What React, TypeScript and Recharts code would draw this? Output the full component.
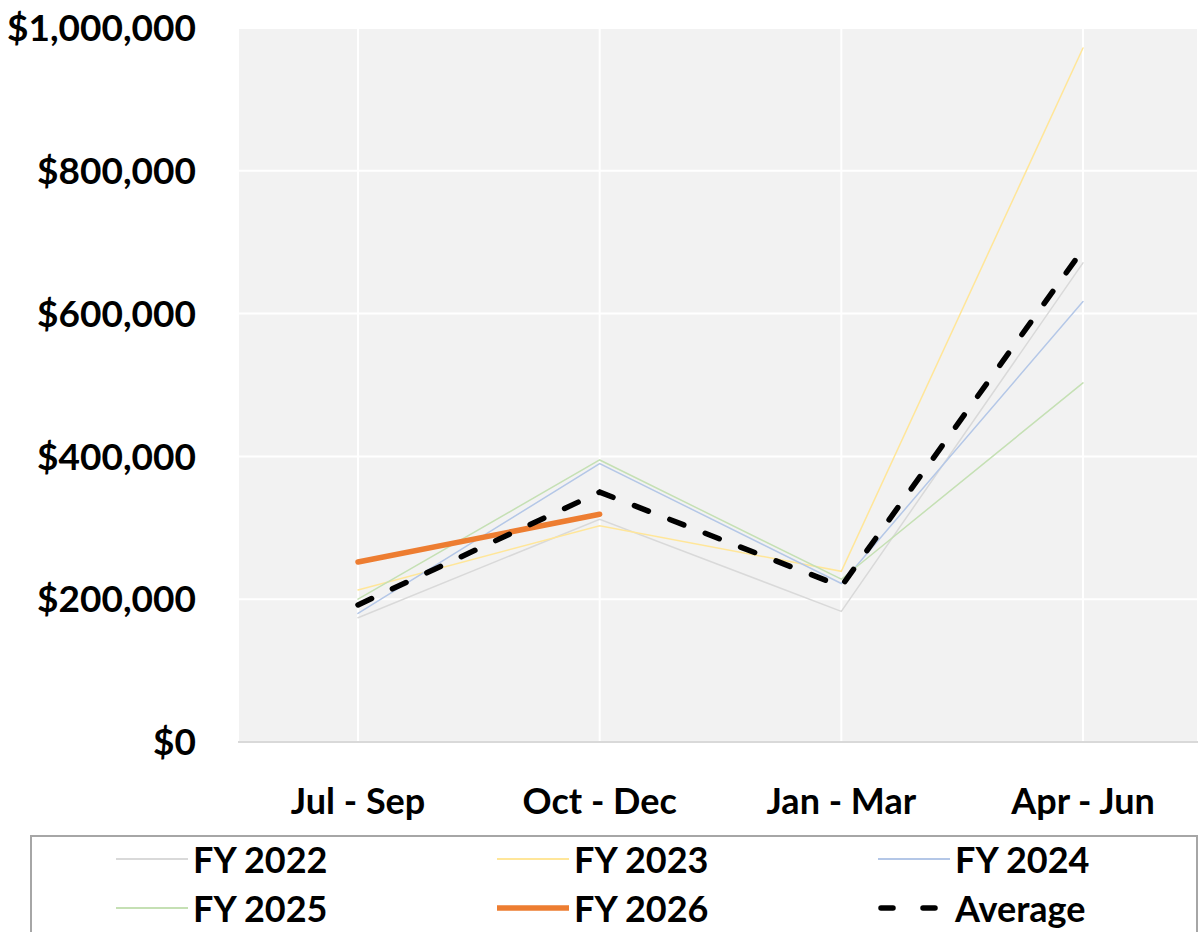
import React from "react"
import { LineChart, Line, XAxis, YAxis, CartesianGrid } from "recharts"

document.body.style.margin = "0"

const quarters = ["Jul - Sep", "Oct - Dec", "Jan - Mar", "Apr - Jun"]
const fy2022 = [174000, 312000, 183000, 671000]
const fy2023 = [213000, 303000, 239000, 972000]
const fy2024 = [180000, 390000, 222000, 617000]
const fy2025 = [200000, 395000, 228000, 503000]
const fy2026 = [252000, 319000, null, null]
const average = [192000, 350000, 218000, 690000]
const yTicks = [0, 200000, 400000, 600000, 800000, 1000000]

const SERIES = [
  { key: "fy2022", name: "FY 2022", values: fy2022, color: "#d9d9d9", width: 1.5 },
  { key: "fy2023", name: "FY 2023", values: fy2023, color: "#ffe699", width: 1.5 },
  { key: "fy2024", name: "FY 2024", values: fy2024, color: "#b4c7e7", width: 1.5 },
  { key: "fy2025", name: "FY 2025", values: fy2025, color: "#c5e0b4", width: 1.5 },
  { key: "fy2026", name: "FY 2026", values: fy2026, color: "#ed7d31", width: 5.5 },
  { key: "average", name: "Average", values: average, color: "#000000", width: 5.5, dash: "15 23" },
]

const data = quarters.map((q, i) => {
  const row: any = { quarter: q }
  SERIES.forEach((s) => (row[s.key] = s.values[i]))
  return row
})

const FONT = "Lato, 'Open Sans', sans-serif"
const fmt = (v: number) => "$" + v.toLocaleString("en-US")

export default function App() {
  return (
    <div style={{ position: "relative", width: 1198, height: 932, background: "#fff", fontFamily: FONT }}>
      <LineChart width={1198} height={932} data={data} margin={{ top: 28, right: 0, bottom: 160, left: 0 }}>
        <CartesianGrid fill="#f2f2f2" stroke="#ffffff" strokeWidth={2} />
        <XAxis
          dataKey="quarter"
          height={30}
          padding={{ left: 120, right: 115 }}
          stroke="#d9d9d9"
          strokeWidth={2}
          tickLine={false}
          tickMargin={40}
          tick={{ fill: "#000", fontSize: 36, fontWeight: 700, fontFamily: FONT }}
        />
        <YAxis
          width={238}
          domain={[0, 1000000]}
          ticks={yTicks}
          axisLine={false}
          tickLine={false}
          tickSize={0}
          tickMargin={42}
          tickFormatter={fmt}
          tick={{ fill: "#000", fontSize: 37, fontWeight: 700, fontFamily: FONT }}
        />
        {SERIES.map((s) => (
          <Line
            key={s.key}
            dataKey={s.key}
            name={s.name}
            stroke={s.color}
            strokeWidth={s.width}
            strokeDasharray={s.dash}
            strokeLinecap="round"
            dot={false}
            activeDot={false}
            connectNulls={false}
            isAnimationActive={false}
          />
        ))}
      </LineChart>
      <div
        style={{
          position: "absolute",
          left: 30,
          top: 835,
          width: 1168,
          height: 110,
          border: "2px solid #a6a6a6",
          boxSizing: "border-box",
        }}
      >
        {SERIES.map((s, i) => (
          <div
            key={s.key}
            style={{
              position: "absolute",
              left: 84 + (i % 3) * 381,
              top: i < 3 ? 2 : 51,
              display: "flex",
              alignItems: "center",
              height: 40,
            }}
          >
            <svg width={72} height={10} style={{ marginRight: 5 }}>
              <line
                x1={s.dash ? 3 : 0}
                x2={s.dash ? 69 : 72}
                y1={5}
                y2={5}
                stroke={s.color}
                strokeWidth={s.width > 2 ? 5.5 : 2}
                strokeDasharray={s.dash ? "12 30" : undefined}
                strokeLinecap={s.dash ? "round" : "butt"}
              />
            </svg>
            <span style={{ fontSize: 36, fontWeight: 700, color: "#000", lineHeight: "40px" }}>{s.name}</span>
          </div>
        ))}
      </div>
    </div>
  )
}
